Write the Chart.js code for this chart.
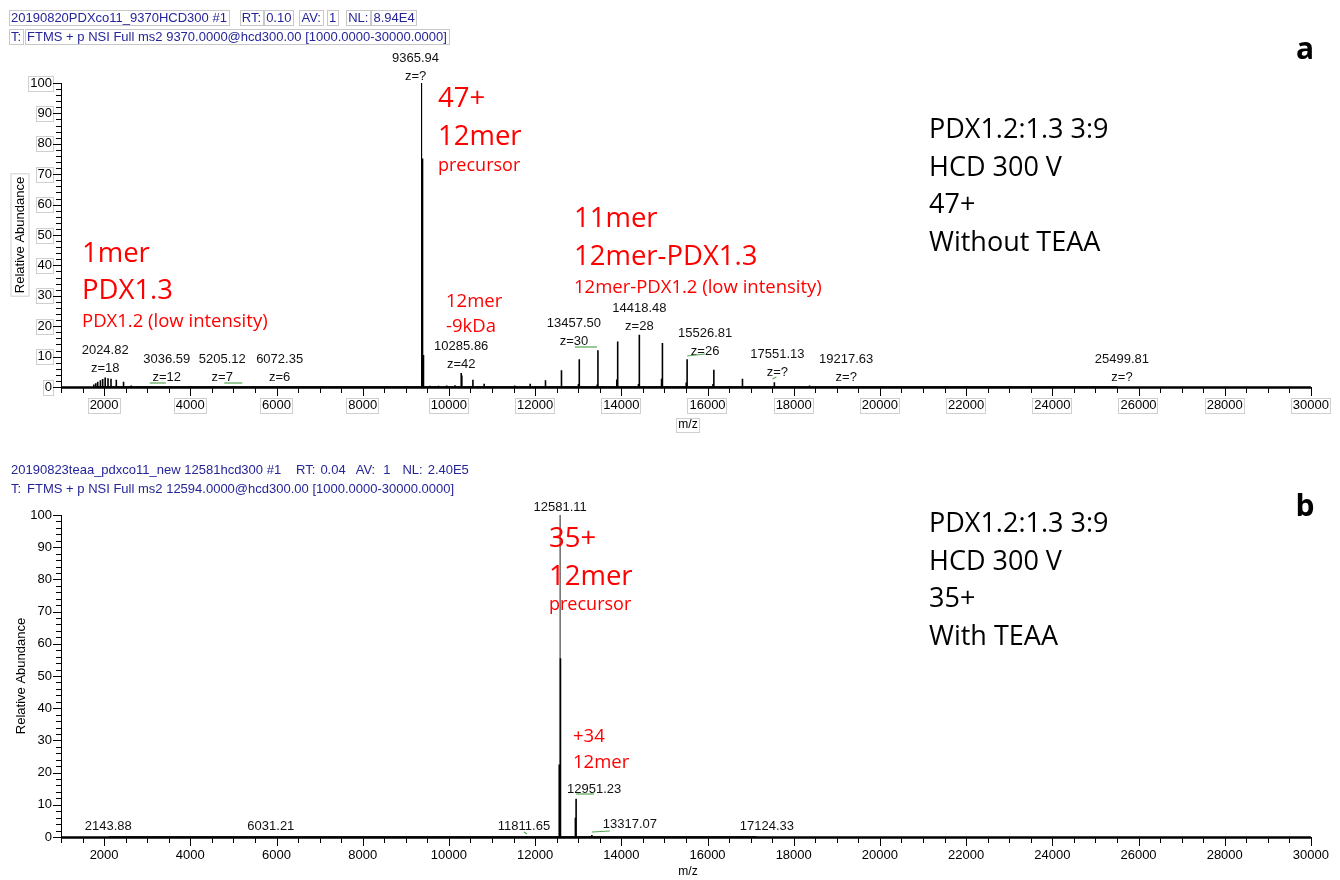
<!DOCTYPE html>
<html>
<head>
<meta charset="utf-8">
<title>HCD fragmentation spectra of PDX1.2:1.3 12mer</title>
<script src="https://cdn.jsdelivr.net/npm/chart.js@4.4.1/dist/chart.umd.min.js"></script>
<style>
  html, body { margin: 0; padding: 0; background: #fff; }
  #wrap { position: relative; width: 1340px; height: 880px; overflow: hidden; background: #fff; }
  #wrap canvas { position: absolute; left: 0; }
</style>
</head>
<body>
<div id="wrap">
  <canvas id="specA" width="1340" height="440" style="top:0px"></canvas>
  <canvas id="specB" width="1340" height="440" style="top:440px"></canvas>
</div>
<script>
// ---------------- axis values ----------------
const MZ_MIN = 1000, MZ_MAX = 30000;
const xTickLabels = [2000, 4000, 6000, 8000, 10000, 12000, 14000, 16000, 18000, 20000, 22000, 24000, 26000, 28000, 30000];
const yTickLabels = [0, 10, 20, 30, 40, 50, 60, 70, 80, 90, 100];

// ---------------- spectrum a (47+ precursor, without TEAA) ----------------
const headerA1 = ['20190820PDXco11_9370HCD300 #1', 'RT:', '0.10', 'AV:', '1', 'NL:', '8.94E4'];
const headerA2 = ['T:', 'FTMS + p NSI Full ms2 9370.0000@hcd300.00 [1000.0000-30000.0000]'];

// annotated peaks: m/z, relative abundance (%), charge
const labeledMzA  = [2024.82, 3036.59, 5205.12, 6072.35, 9365.94, 10285.86, 13457.50, 14418.48, 15526.81, 17551.13, 19217.63, 25499.81];
const labeledIntA = [3.1, 0.2, 0.15, 0.15, 100, 4.6, 12.1, 17.2, 9.1, 1.6, 0.2, 0.2];
const labeledZA   = ['18', '12', '7', '6', '?', '42', '30', '28', '26', '?', '?', '?'];

// other peaks: m/z, relative abundance (%)
const peakMzA  = [1760, 1806, 1852, 1914, 1967, 2091, 2160, 2283, 2451, 2629, 2797,
                  9388, 9410, 9565, 9680, 9757, 9949, 10142, 10300, 10557, 10818, 11526, 11886, 12241,
                  12604, 12617, 13005, 13025, 13440, 13896, 13916, 14398, 14934, 14954, 15506,
                  16127, 16147, 16804, 16816, 18368];
const peakIntA = [0.8, 1.2, 1.7, 2.2, 2.6, 2.9, 2.7, 2.4, 1.7, 0.5, 0.3,
                  75.2, 10.5, 0.4, 0.3, 0.4, 0.5, 0.6, 3.8, 2.4, 1.1, 0.5, 1.1, 2.2,
                  1.2, 5.5, 1.0, 9.1, 0.8, 2.5, 15.0, 1.0, 2.7, 14.5, 1.5,
                  1.0, 5.7, 0.6, 2.7, 0.5];

// ---------------- spectrum b (35+ precursor, with TEAA) ----------------
const headerB1 = ['20190823teaa_pdxco11_new 12581hcd300 #1', 'RT:', '0.04', 'AV:', '1', 'NL:', '2.40E5'];
const headerB2 = ['T:', 'FTMS + p NSI Full ms2 12594.0000@hcd300.00 [1000.0000-30000.0000]'];

const labeledMzB  = [2143.88, 6031.21, 11811.65, 12581.11, 12951.23, 13317.07, 17124.33];
const labeledIntB = [0.3, 0.2, 0.3, 100, 11.9, 0.6, 0.2];

const peakMzB  = [12560, 12588, 12935];
const peakIntB = [22.5, 55.5, 6.0];

// ---------------- helpers ----------------
const ARIAL = "'Liberation Sans', Arial, sans-serif";
const SANS = "'Open Sans', 'Noto Sans', sans-serif";
const RED = '#ff0000';
const BIG = 27.5, SMALL = 18.5;

// each centroid peak becomes a vertical stick from the baseline
function sticks(mz, inten) {
  const pts = [];
  for (let i = 0; i < mz.length; i++) {
    pts.push({ x: mz[i], y: 0 }, { x: mz[i], y: inten[i] }, { x: mz[i], y: 0 });
  }
  return pts;
}

function splitBase(mz, inten) {
  const b = inten.indexOf(Math.max.apply(null, inten));
  return {
    base: sticks([mz[b]], [inten[b]]),
    rest: sticks(mz.filter((_, i) => i !== b), inten.filter((_, i) => i !== b))
  };
}

// axis frame, tick marks, titles, header lines and text notes
const spectrumDecor = {
  id: 'spectrumDecor',
  afterDraw(chart, args, o) {
    const ctx = chart.ctx, xs = chart.scales.x, ys = chart.scales.y, ca = chart.chartArea;
    const oy = o.offsetY;
    ctx.save();

    // tick label boxes
    if (o.boxed) {
      ctx.strokeStyle = '#cfcfcf';
      ctx.lineWidth = 1;
      ctx.font = '13px ' + ARIAL;
      xTickLabels.forEach(v => {
        const w = ctx.measureText(String(v)).width;
        const cx = xs.getPixelForValue(v);
        ctx.strokeRect(Math.round(cx - w / 2 - 2) + 0.5, Math.round(ca.bottom + 11) + 0.5, Math.round(w + 3), 15);
      });
      yTickLabels.forEach(v => {
        const w = ctx.measureText(String(v)).width;
        const cy = ys.getPixelForValue(v);
        ctx.strokeRect(Math.round(ca.left - 9 - w - 2) + 0.5, Math.round(cy - 7.5) + 0.5, Math.round(w + 3), 15);
      });
    }

    // y axis line and ticks
    ctx.strokeStyle = '#000';
    ctx.lineWidth = 1;
    ctx.beginPath();
    ctx.moveTo(ca.left + 0.5, ca.top);
    ctx.lineTo(ca.left + 0.5, ca.bottom);
    for (let v = 0; v <= 100; v += 2) {
      const y = Math.round(ys.getPixelForValue(v)) + 0.5;
      const len = v % 10 === 0 ? 8 : 5;
      ctx.moveTo(ca.left - len, y);
      ctx.lineTo(ca.left + 1, y);
    }
    // x ticks
    for (let v = MZ_MIN; v <= MZ_MAX; v += 500) {
      const x = Math.round(xs.getPixelForValue(v)) + 0.5;
      const len = v % 2000 === 0 ? 9 : 6;
      ctx.moveTo(x, ca.bottom);
      ctx.lineTo(x, ca.bottom + len);
    }
    ctx.stroke();
    // x axis baseline
    ctx.lineWidth = 2.5;
    ctx.beginPath();
    ctx.moveTo(ca.left, ca.bottom + 0.5);
    ctx.lineTo(ca.right, ca.bottom + 0.5);
    ctx.stroke();

    // axis titles
    ctx.fillStyle = '#000';
    ctx.font = '13px ' + ARIAL;
    ctx.save();
    ctx.translate(o.yTitle.x, o.yTitle.y - oy);
    ctx.rotate(-Math.PI / 2);
    ctx.textAlign = 'center';
    ctx.textBaseline = 'middle';
    ctx.fillText('Relative Abundance', 0, 0);
    if (o.boxed) {
      const w = ctx.measureText('Relative Abundance').width;
      ctx.strokeStyle = '#cfcfcf';
      ctx.lineWidth = 1;
      ctx.strokeRect(-w / 2 - 3, -9, w + 6, 18);
    }
    ctx.restore();
    ctx.font = '12px ' + ARIAL;
    ctx.textAlign = 'center';
    ctx.textBaseline = 'middle';
    ctx.fillText('m/z', o.xTitle.x, o.xTitle.y - oy);
    if (o.boxed) {
      const w = ctx.measureText('m/z').width;
      ctx.strokeStyle = '#cfcfcf';
      ctx.lineWidth = 1;
      ctx.strokeRect(Math.round(o.xTitle.x - w / 2 - 2) + 0.5, Math.round(o.xTitle.y - oy - 7) + 0.5, Math.round(w + 4), 14);
    }

    // header lines: items laid out left to right with the given gaps
    ctx.font = '13px ' + ARIAL;
    ctx.textAlign = 'left';
    ctx.textBaseline = 'middle';
    o.header.forEach(row => {
      let x = row.x0;
      row.items.forEach((txt, i) => {
        if (i > 0) x += row.gaps[i - 1];
        const y = row.y - oy;
        const w = ctx.measureText(txt).width;
        ctx.fillStyle = '#25259a';
        ctx.fillText(txt, x, y);
        if (o.boxed) {
          ctx.strokeStyle = '#c8c8c8';
          ctx.lineWidth = 1;
          ctx.strokeRect(Math.round(x - 2) + 0.5, Math.round(y - 8) + 0.5, Math.round(w + 4), 15);
        }
        x += w;
      });
    });

    // peak annotations (m/z and charge) anchored at the peak's m/z
    ctx.fillStyle = '#111';
    ctx.font = '13px ' + ARIAL;
    ctx.textAlign = 'center';
    ctx.textBaseline = 'alphabetic';
    o.peakLabels.mz.forEach((m, i) => {
      const cx = xs.getPixelForValue(m) + o.peakLabels.dx[i];
      const by = o.peakLabels.y[i] - oy;
      ctx.fillText(m.toFixed(2), cx, by);
      if (o.peakLabels.z) ctx.fillText('z=' + o.peakLabels.z[i], cx, by + 18);
    });

    // little green markers tying labels to peaks
    ctx.strokeStyle = '#56a556';
    ctx.lineWidth = 1.2;
    o.marks.forEach(mk => {
      const px = xs.getPixelForValue(mk.mz);
      ctx.beginPath();
      ctx.moveTo(px + mk.d0, mk.y0 - oy);
      ctx.lineTo(px + mk.d1, mk.y1 - oy);
      ctx.stroke();
    });

    // text notes
    ctx.textBaseline = 'alphabetic';
    o.notes.forEach(n => {
      ctx.fillStyle = n.color;
      ctx.font = (n.bold ? 'bold ' : '') + n.size + 'px ' + SANS;
      ctx.textAlign = n.align || 'left';
      ctx.fillText(n.t, n.x, n.y - oy);
    });

    ctx.restore();
  }
};

function makeSpectrum(canvasId, cfg) {
  const a = splitBase(cfg.labeledMz, cfg.labeledInt);
  const restPts = a.rest.concat(sticks(cfg.peakMz, cfg.peakInt));
  return new Chart(document.getElementById(canvasId), {
    type: 'scatter',
    data: {
      datasets: [
        { data: restPts, showLine: true, borderColor: '#000', borderWidth: 1.6, pointRadius: 0, tension: 0 },
        { data: a.base, showLine: true, borderColor: cfg.baseColor, borderWidth: 1, pointRadius: 0, tension: 0 }
      ]
    },
    options: {
      responsive: false,
      animation: false,
      devicePixelRatio: 1,
      events: [],
      layout: { padding: { left: 0, right: 22, top: cfg.top, bottom: 0 } },
      plugins: {
        legend: { display: false },
        tooltip: { enabled: false },
        spectrumDecor: cfg.decor
      },
      scales: {
        x: {
          type: 'linear', min: MZ_MIN, max: MZ_MAX,
          afterFit: s => { s.height = cfg.xAxisHeight; },
          afterBuildTicks: s => { s.ticks = xTickLabels.map(v => ({ value: v })); },
          grid: { display: false, drawTicks: false },
          border: { display: false },
          ticks: { autoSkip: false, maxRotation: 0, padding: 11, color: '#000',
                   font: { family: ARIAL, size: 13 }, callback: v => String(v) }
        },
        y: {
          min: 0, max: 100,
          afterFit: s => { s.width = 61; },
          afterBuildTicks: s => { s.ticks = yTickLabels.map(v => ({ value: v })); },
          grid: { display: false, drawTicks: false },
          border: { display: false },
          ticks: { padding: 9, color: '#000', font: { family: ARIAL, size: 13 }, callback: v => String(v) }
        }
      }
    },
    plugins: [spectrumDecor]
  });
}

// ---------------- spectrum a ----------------
makeSpectrum('specA', {
  labeledMz: labeledMzA, labeledInt: labeledIntA, peakMz: peakMzA, peakInt: peakIntA,
  baseColor: '#000', top: 83, xAxisHeight: 53,
  decor: {
    offsetY: 0, boxed: true,
    yTitle: { x: 20, y: 235 }, xTitle: { x: 688, y: 425 },
    header: [
      { y: 18, items: headerA1, x0: 11, gaps: [15, 5, 10, 8, 12, 5] },
      { y: 37, items: headerA2, x0: 11, gaps: [6] }
    ],
    peakLabels: {
      mz: labeledMzA, z: labeledZA,
      dx: [0, 18, -20, 0, -6, 0, -24, 0, 18, 3, 0, 5],
      y:  [354, 363, 363, 363, 62, 350, 327, 312, 337, 358, 363, 363]
    },
    marks: [
      { mz: 3036.59, d0: 1, d1: 17, y0: 383, y1: 383 },
      { mz: 5205.12, d0: -18, d1: 0, y0: 383, y1: 383 },
      { mz: 13457.50, d0: -23, d1: -1, y0: 347, y1: 347 },
      { mz: 15526.81, d0: 0, d1: 18, y0: 356, y1: 354 },
      { mz: 17551.13, d0: -2, d1: 2, y0: 379, y1: 377 }
    ],
    notes: [
      { t: '47+', x: 438, y: 107, size: BIG, color: RED },
      { t: '12mer', x: 438, y: 145, size: BIG, color: RED },
      { t: 'precursor', x: 438, y: 171, size: 18, color: RED },
      { t: '1mer', x: 82, y: 262, size: BIG, color: RED },
      { t: 'PDX1.3', x: 82, y: 299, size: BIG, color: RED },
      { t: 'PDX1.2 (low intensity)', x: 82, y: 327, size: SMALL, color: RED },
      { t: '12mer', x: 446, y: 307, size: SMALL, color: RED },
      { t: '-9kDa', x: 446, y: 332, size: SMALL, color: RED },
      { t: '11mer', x: 574, y: 227, size: BIG, color: RED },
      { t: '12mer-PDX1.3', x: 574, y: 265, size: BIG, color: RED },
      { t: '12mer-PDX1.2 (low intensity)', x: 574, y: 293, size: SMALL, color: RED },
      { t: 'PDX1.2:1.3 3:9', x: 929, y: 138, size: 27, color: '#000' },
      { t: 'HCD 300 V', x: 929, y: 176, size: 27, color: '#000' },
      { t: '47+', x: 929, y: 213, size: 27, color: '#000' },
      { t: 'Without TEAA', x: 929, y: 251, size: 27, color: '#000' },
      { t: 'a', x: 1305, y: 59, size: 30, color: '#000', bold: true, align: 'center' }
    ]
  }
});

// ---------------- spectrum b ----------------
makeSpectrum('specB', {
  labeledMz: labeledMzB, labeledInt: labeledIntB, peakMz: peakMzB, peakInt: peakIntB,
  baseColor: '#666', top: 75, xAxisHeight: 43,
  decor: {
    offsetY: 440, boxed: false,
    yTitle: { x: 21, y: 676 }, xTitle: { x: 688, y: 872 },
    header: [
      { y: 470, items: headerB1, x0: 11, gaps: [15, 5, 10, 8, 12, 5] },
      { y: 489, items: headerB2, x0: 11, gaps: [6] }
    ],
    peakLabels: {
      mz: labeledMzB, z: null,
      dx: [-2, -7, -3, 0, 18, 38, 11],
      y:  [830, 830, 830, 511, 793, 828, 830]
    },
    marks: [
      { mz: 12951.23, d0: 0, d1: 18, y0: 794, y1: 794 },
      { mz: 13317.07, d0: 0, d1: 18, y0: 832, y1: 831 },
      { mz: 11811.65, d0: -3, d1: 0, y0: 832, y1: 834 }
    ],
    notes: [
      { t: '35+', x: 549, y: 547, size: BIG, color: RED },
      { t: '12mer', x: 549, y: 585, size: BIG, color: RED },
      { t: 'precursor', x: 549, y: 610, size: 18, color: RED },
      { t: '+34', x: 573, y: 742, size: SMALL, color: RED },
      { t: '12mer', x: 573, y: 768, size: SMALL, color: RED },
      { t: 'PDX1.2:1.3 3:9', x: 929, y: 532, size: 27, color: '#000' },
      { t: 'HCD 300 V', x: 929, y: 570, size: 27, color: '#000' },
      { t: '35+', x: 929, y: 607, size: 27, color: '#000' },
      { t: 'With TEAA', x: 929, y: 645, size: 27, color: '#000' },
      { t: 'b', x: 1305, y: 516, size: 30, color: '#000', bold: true, align: 'center' }
    ]
  }
});
</script>
</body>
</html>
